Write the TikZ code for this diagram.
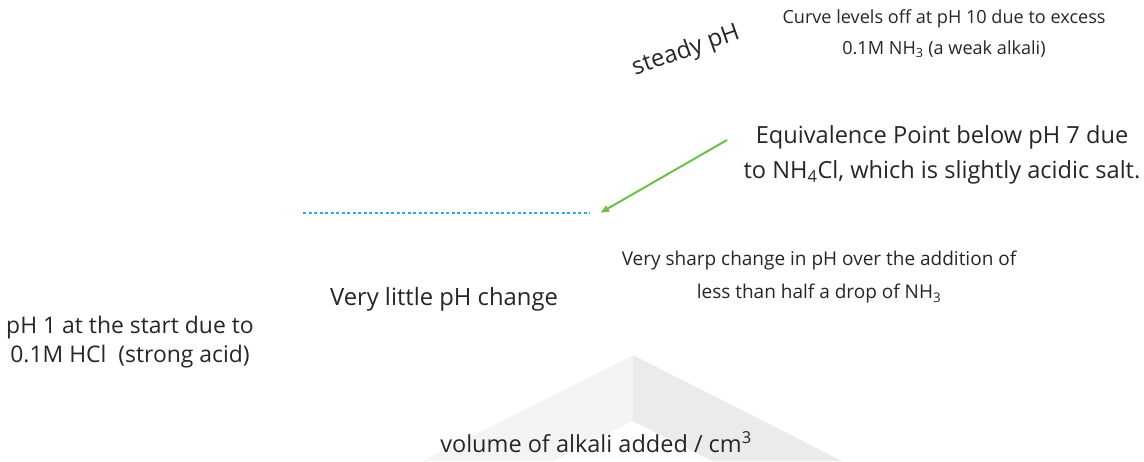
\documentclass[tikz,border=0pt]{standalone}
\usepackage{fontspec}
\setmainfont{Open Sans}
\usetikzlibrary{arrows.meta}
\usetikzlibrary{positioning}
\definecolor{eqgreen}{HTML}{6CC04A}
\definecolor{flatblue}{HTML}{29ABE2}
\definecolor{chevlight}{HTML}{F4F4F4}
\definecolor{chevdark}{HTML}{EBEBEB}
\tikzstyle{label} = [inner sep=0pt, align=center, text=black!85]
\tikzstyle{pointer} = [line width=2pt,-{Latex[length=9pt,width=8pt]},eqgreen]

\begin{document}
\begin{tikzpicture}[x=1pt,y=-1pt]

    \useasboundingbox (0,0) rectangle (1144,461); % same frame as the page

    % faint chevron behind the axis label
    \fill[chevlight] (633,355) -- (423,461) -- (554,461) -- (633,421) -- cycle;
    \fill[chevdark]  (633,355) -- (842,461) -- (712,461) -- (633,421) -- cycle;

    \coordinate (EqTail)  at (727,140);
    \coordinate (EqPoint) at (600,213);
    \coordinate (FlatL)   at (303,213);
    \coordinate (FlatR)   at (590,213);

    \node[label, rotate=19.5, font=\fontsize{24}{26}\selectfont] (steady) at (686,51) {steady pH};
    \node[label, font=\fontsize{18.1}{31}\selectfont] (levels) at (944,34)
        {Curve levels off at pH 10 due to excess\\0.1M NH\textsubscript{3} (a weak alkali)};
    \node[label, font=\fontsize{23.6}{35}\selectfont] (equiv) at (942,155)
        {Equivalence Point below pH 7 due\\to NH\textsubscript{4}Cl, which is slightly acidic salt.};
    \node[label, font=\fontsize{19}{33}\selectfont] (sharp) at (819,277)
        {Very sharp change in pH over the addition of\\less than half a drop of NH\textsubscript{3}};
    \node[label, font=\fontsize{23.8}{24}\selectfont] (little) at (444,299) {Very little pH change};
    \node[label, font=\fontsize{22.9}{29}\selectfont] (start) at (130,342)
        {pH 1 at the start due to\\0.1M HCl\ \ (strong acid)};
    \node[label, font=\fontsize{23.5}{24}\selectfont] (volume) at (596,442)
        {volume of alkali added / cm\textsuperscript{3}};

    \draw [pointer] (EqTail) -- (EqPoint); % points at the equivalence point
    \draw [line width=2pt, flatblue, dash pattern=on 3pt off 2.5pt] (FlatL) -- (FlatR);

\end{tikzpicture}
\end{document}
